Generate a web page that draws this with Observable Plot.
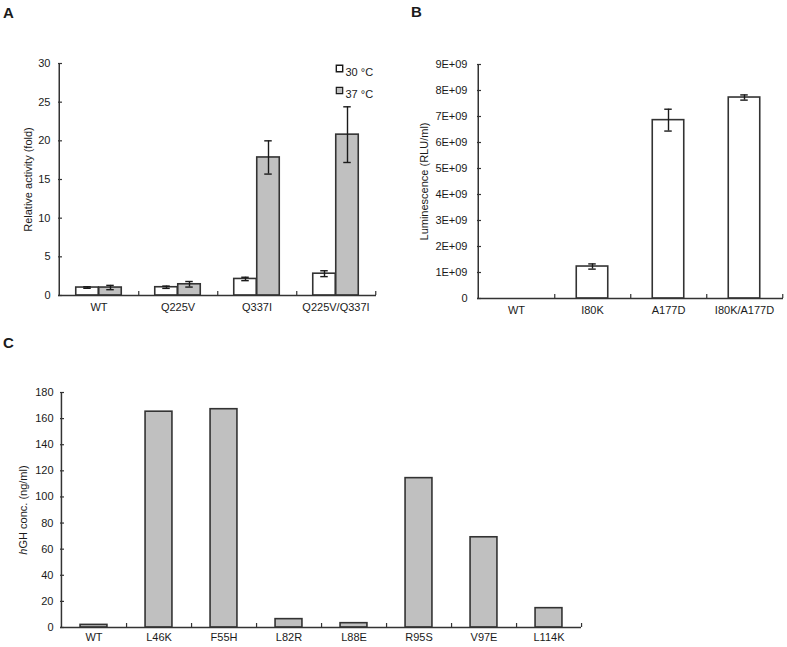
<!DOCTYPE html>
<html><head><meta charset="utf-8">
<script src="https://cdn.jsdelivr.net/npm/d3@7"></script>
<script src="https://cdn.jsdelivr.net/npm/@observablehq/plot@0.6"></script>
<style>
body{margin:0;background:#fff;}
#wrap{position:relative;width:787px;height:647px;font-family:"Liberation Sans",Arial,sans-serif;color:#1a1a1a;overflow:hidden;}
.panel{position:absolute;}
.letter{position:absolute;font-weight:bold;font-size:15px;line-height:1;}
</style></head><body>
<div id="wrap">
  <div id="pA" class="panel" style="left:0;top:0"></div>
  <div id="pB" class="panel" style="left:390px;top:0"></div>
  <div id="pC" class="panel" style="left:0;top:320px"></div>
  <div class="letter" style="left:3px;top:5px">A</div>
  <div class="letter" style="left:411px;top:4px">B</div>
  <div class="letter" style="left:3px;top:335px">C</div>
</div>
<script>
// ---------- Panel A data ----------
const catsA = ["WT", "Q225V", "Q337I", "Q225V/Q337I"];
const seriesA = ["30 °C", "37 °C"];
const valA30 = [1.03, 1.07, 2.14, 2.82];
const errA30 = [0.1, 0.15, 0.22, 0.38];
const valA37 = [1.03, 1.45, 17.85, 20.8];
const errA37 = [0.28, 0.36, 2.15, 3.6];
const ticksA = [0, 5, 10, 15, 20, 25, 30];

// ---------- Panel B data ----------
const catsB = ["WT", "I80K", "A177D", "I80K/A177D"];
const valB = [0, 1.23e9, 6.86e9, 7.73e9];
const errB = [0, 0.1e9, 0.42e9, 0.1e9];
const ticksB = [0, 1e9, 2e9, 3e9, 4e9, 5e9, 6e9, 7e9, 8e9, 9e9];

// ---------- Panel C data ----------
const catsC = ["WT", "L46K", "F55H", "L82R", "L88E", "R95S", "V97E", "L114K"];
const valC = [2.0, 165.3, 167.2, 6.4, 3.3, 114.4, 69.1, 14.8];
const ticksC = [0, 20, 40, 60, 80, 100, 120, 140, 160, 180];

const FONT = "'Liberation Sans', Arial, sans-serif";
const INK = "#333";
const GRAY = "#c0c0c0";

function axes(cats, step, fw, fh, yTicks, fmt, label, labelOffset, padY, padX) {
  return [
    Plot.axisY(yTicks, {tickSize: 0, tickPadding: padY, tickFormat: fmt, label, labelAnchor: "center", labelOffset, labelArrow: "none"}),
    Plot.tickY(yTicks, {y: d => d, insetRight: fw - 4, stroke: INK, strokeWidth: 1.2}),
    Plot.axisX(cats, {tickSize: 0, tickPadding: padX, label: null}),
    Plot.tickX(cats, {x: d => d, dx: step / 2, insetTop: fh - 4, stroke: INK, strokeWidth: 1.2}),
    Plot.ruleY([yTicks[0]], {stroke: INK, strokeWidth: 1.5}),
    Plot.ruleX([cats[0]], {dx: -step / 2, stroke: INK, strokeWidth: 1.5})
  ];
}

function errorMarks(rows, vKey, eKey, dx, step, cap) {
  const r = rows.filter(d => d[eKey] > 0);
  const ins = (step - cap) / 2;
  return [
    Plot.ruleX(r, {x: "cat", y1: d => d[vKey] - d[eKey], y2: d => d[vKey] + d[eKey], dx, stroke: "#1a1a1a", strokeWidth: 1.4}),
    Plot.tickY(r, {x: "cat", y: d => d[vKey] + d[eKey], dx, insetLeft: ins, insetRight: ins, stroke: "#1a1a1a", strokeWidth: 1.4}),
    Plot.tickY(r, {x: "cat", y: d => d[vKey] - d[eKey], dx, insetLeft: ins, insetRight: ins, stroke: "#1a1a1a", strokeWidth: 1.4})
  ];
}

const baseStyle = {fontFamily: FONT, fontSize: "11px", color: "#1a1a1a", background: "transparent", overflow: "visible"};

// ---------- Panel A ----------
{
  const W = 390, H = 320, ml = 58, mr = 14, mt = 63, mb = 25;
  const fw = W - ml - mr, fh = H - mt - mb, step = fw / catsA.length, bw = 23;
  const rows = catsA.map((c, i) => ({cat: c, v30: valA30[i], e30: errA30[i], v37: valA37[i], e37: errA37[i]}));
  const chart = Plot.plot({
    width: W, height: H, marginLeft: ml, marginRight: mr, marginTop: mt, marginBottom: mb,
    style: baseStyle,
    x: {type: "band", domain: catsA, padding: 0},
    y: {domain: [ticksA[0], ticksA[ticksA.length - 1]]},
    marks: [
      Plot.barY(rows, {x: "cat", y: "v30", fill: "#fff", stroke: INK, strokeWidth: 1.6, insetLeft: step / 2 - bw, insetRight: step / 2}),
      Plot.barY(rows, {x: "cat", y: "v37", fill: GRAY, stroke: INK, strokeWidth: 1.6, insetLeft: step / 2, insetRight: step / 2 - bw}),
      ...errorMarks(rows, "v30", "e30", -bw / 2, step, 8),
      ...errorMarks(rows, "v37", "e37", bw / 2, step, 8),
      ...axes(catsA, step, fw, fh, ticksA, d => String(d), "Relative activity (fold)", 34, 8, 8),
      Plot.dot([seriesA[0]], {frameAnchor: "top-right", dx: -37, dy: 5, symbol: "square", r: 3.6, fill: "#fff", stroke: "#1a1a1a", strokeWidth: 1.4}),
      Plot.text([seriesA[0]], {frameAnchor: "top-right", dx: -31, dy: 5, text: d => d, textAnchor: "start", fontSize: 11}),
      Plot.dot([seriesA[1]], {frameAnchor: "top-right", dx: -37, dy: 27, symbol: "square", r: 3.6, fill: GRAY, stroke: "#1a1a1a", strokeWidth: 1.2}),
      Plot.text([seriesA[1]], {frameAnchor: "top-right", dx: -31, dy: 27, text: d => d, textAnchor: "start", fontSize: 11})
    ]
  });
  document.getElementById("pA").append(chart);
}

// ---------- Panel B ----------
{
  const W = 397, H = 320, ml = 87, mr = 4, mt = 64, mb = 22;
  const fw = W - ml - mr, fh = H - mt - mb, step = fw / catsB.length, bw = 32;
  const rows = catsB.map((c, i) => ({cat: c, v: valB[i], e: errB[i]}));
  const chart = Plot.plot({
    width: W, height: H, marginLeft: ml, marginRight: mr, marginTop: mt, marginBottom: mb,
    style: baseStyle,
    x: {type: "band", domain: catsB, padding: 0},
    y: {domain: [ticksB[0], ticksB[ticksB.length - 1]]},
    marks: [
      Plot.barY(rows.filter(d => d.v > 0), {x: "cat", y: "v", fill: "#fff", stroke: INK, strokeWidth: 1.6, insetLeft: (step - bw) / 2, insetRight: (step - bw) / 2}),
      ...errorMarks(rows, "v", "e", 0, step, 8),
      ...axes(catsB, step, fw, fh, ticksB, d => d === 0 ? "0" : (d / 1e9) + "E+09", "Luminescence (RLU/ml)", 57, 10, 8)
    ]
  });
  document.getElementById("pB").append(chart);
}

// ---------- Panel C ----------
{
  const W = 787, H = 327, ml = 60, mr = 206, mt = 72, mb = 20;
  const fw = W - ml - mr, fh = H - mt - mb, step = fw / catsC.length, bw = 27;
  const rows = catsC.map((c, i) => ({cat: c, v: valC[i]}));
  const chart = Plot.plot({
    width: W, height: H, marginLeft: ml, marginRight: mr, marginTop: mt, marginBottom: mb,
    style: baseStyle,
    x: {type: "band", domain: catsC, padding: 0},
    y: {domain: [ticksC[0], ticksC[ticksC.length - 1]]},
    marks: [
      Plot.barY(rows, {x: "cat", y: "v", fill: GRAY, stroke: INK, strokeWidth: 1.6, insetLeft: (step - bw) / 2, insetRight: (step - bw) / 2}),
      ...axes(catsC, step, fw, fh, ticksC, d => String(d), "hGH conc. (ng/ml)", 41, 7, 6)
    ]
  });
  document.getElementById("pC").append(chart);
  // italic "h" in the y-axis title
  d3.select(chart).selectAll("text").filter(function() { return this.textContent === "hGH conc. (ng/ml)"; })
    .each(function() {
      const t = d3.select(this);
      t.text("");
      t.append("tspan").attr("font-style", "italic").text("h");
      t.append("tspan").text("GH conc. (ng/ml)");
    });
}
</script>
</body></html>
